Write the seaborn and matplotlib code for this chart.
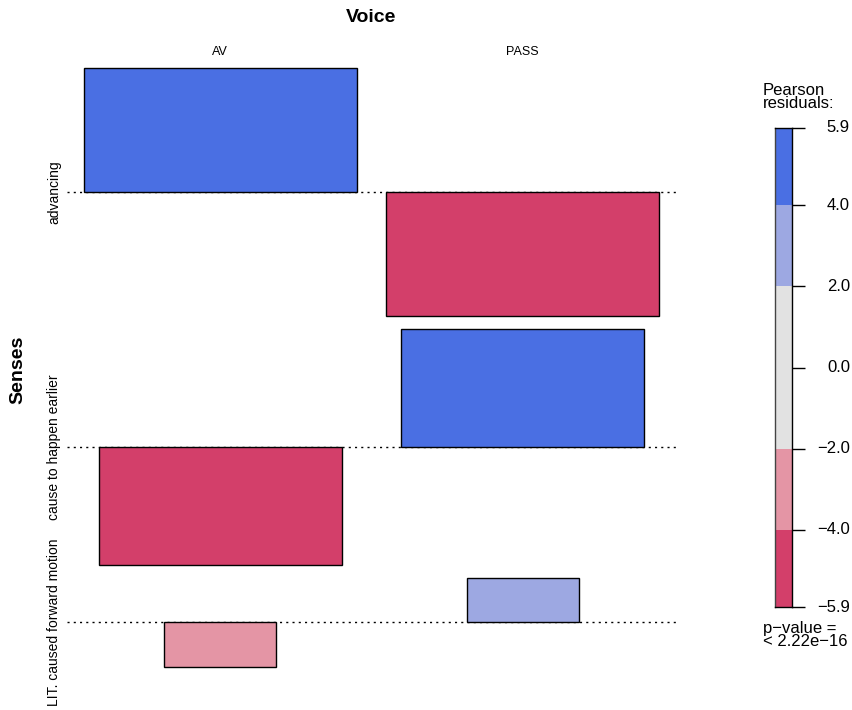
import numpy as np
import pandas as pd
import seaborn as sns
import matplotlib
matplotlib.use("Agg")
import matplotlib.pyplot as plt
from matplotlib.transforms import blended_transform_factory

# Association plot of Senses x Voice (Pearson residuals)
senses = ["advancing", "cause to happen earlier", "LIT. caused forward motion"]
voices = ["AV", "PASS"]
# Pearson residuals per cell (rows = senses, cols = voices)
residuals = [[5.90, -5.90],
             [-5.64, 5.62],
             [-2.14, 2.10]]
# expected cell counts (bar width is proportional to their square root)
expected = [[50.0, 50.0],
            [39.6, 39.8],
            [8.5, 8.5]]
legend_breaks = [-5.9, -4.0, -2.0, 2.0, 4.0, 5.9]
legend_ticks = [-5.9, -4.0, -2.0, 0.0, 2.0, 4.0, 5.9]
p_value_text = "p\u2212value =\n< 2.22e\u221216"

sns.set_style("white")
plt.rcParams["font.family"] = ["Liberation Sans", "DejaVu Sans"]
plt.rcParams["text.color"] = "black"

shade = {"hi2": "#4A6FE3", "hi1": "#9DA8E2", "mid": "#E2E2E2",
         "lo1": "#E495A5", "lo2": "#D33F6A"}


def shade_for(r):
    if r > 4:
        return shade["hi2"]
    if r > 2:
        return shade["hi1"]
    if r >= -2:
        return shade["mid"]
    if r >= -4:
        return shade["lo1"]
    return shade["lo2"]


df = pd.DataFrame(
    [(s, v, residuals[i][j], expected[i][j])
     for i, s in enumerate(senses) for j, v in enumerate(voices)],
    columns=["Senses", "Voice", "resid", "expected"],
)
df["width"] = np.sqrt(df["expected"])

W, H = 852, 710
fig = plt.figure(figsize=(W / 100, H / 100), dpi=100)


def fx(px):
    return px / W


def fy(py):
    return 1 - py / H


# ---- main panel layout ----
col_w = df.groupby("Voice", sort=False)["width"].max().reindex(voices).values
xgap = 0.055 * col_w.sum()
xpad = 0.57 * xgap
col_center = []
x = xpad
for w in col_w:
    col_center.append(x + w / 2)
    x += w + xgap
x_total = x - xgap + xpad

res = np.array(residuals)
ups = np.clip(res.max(axis=1), 0, None)
downs = np.clip(-res.min(axis=1), 0, None)
ygap = 0.022 * (ups + downs).sum()
y_total = (ups + downs).sum() + ygap * (len(senses) - 1)
baselines = []
y = y_total
for u, d in zip(ups, downs):
    baselines.append(y - u)
    y -= u + d + ygap

ax = fig.add_axes([fx(67), fy(667), fx(676) - fx(67), (667 - 68) / H])
ax.set_xlim(0, x_total)
ax.set_ylim(0, y_total)
ax.axis("off")

for i, s in enumerate(senses):
    ax.plot([0, x_total], [baselines[i]] * 2, color="black", lw=1.0,
            ls=(0, (1.5, 3)), zorder=1, clip_on=False)
    for j, v in enumerate(voices):
        row = df[(df["Senses"] == s) & (df["Voice"] == v)].iloc[0]
        ax.bar(col_center[j], row["resid"], width=row["width"],
               bottom=baselines[i], color=shade_for(row["resid"]),
               edgecolor="black", linewidth=1.0, zorder=2, clip_on=False)

# column and row labels
tr_col = blended_transform_factory(ax.transData, fig.transFigure)
for j, v in enumerate(voices):
    fig.text(col_center[j], fy(52), v, transform=tr_col, ha="center",
             va="center", fontsize=9)
tr_row = blended_transform_factory(fig.transFigure, ax.transData)
for i, s in enumerate(senses):
    fig.text(fx(54), baselines[i], s, transform=tr_row, rotation=90,
             ha="center", va="center", fontsize=10)

fig.text(fx(371), fy(18), "Voice", ha="center", va="center",
         fontsize=14, fontweight="bold")
fig.text(fx(18), fy(370), "Senses", ha="center", va="center",
         fontsize=14, fontweight="bold", rotation=90)

# ---- legend: shaded residual scale ----
lax = fig.add_axes([fx(775), fy(607), fx(792) - fx(775), (607 - 128) / H])
lo, hi = legend_breaks[0], legend_breaks[-1]
for a, b in zip(legend_breaks[:-1], legend_breaks[1:]):
    mid = (a + b) / 2
    lax.bar(0.5, b - a, width=1.0, bottom=a, color=shade_for(mid),
            edgecolor="none", linewidth=0)
lax.set_xlim(0, 1)
lax.set_ylim(lo, hi)
lax.set_xticks([])
for sp in lax.spines.values():
    sp.set_visible(True)
    sp.set_color("black")
    sp.set_linewidth(1.0)
lax.spines["left"].set_color("#444444")
lax.yaxis.tick_right()
lax.set_yticks(legend_ticks)
lax.set_yticklabels([])
lax.tick_params(axis="y", direction="out", length=9.5, width=1.0,
                color="black", right=True, left=False)
tr_leg = blended_transform_factory(fig.transFigure, lax.transData)
for t in legend_ticks:
    fig.text(fx(850), t, f"{t:.1f}".replace("-", "\u2212"), transform=tr_leg,
             ha="right", va="center", fontsize=12)

fig.text(fx(763), fy(111), "Pearson\nresiduals:", ha="left", va="bottom",
         fontsize=12, linespacing=0.85)
fig.text(fx(763), fy(621), p_value_text, ha="left", va="top",
         fontsize=12, linespacing=0.85)

fig.savefig("out.png", dpi=100)
